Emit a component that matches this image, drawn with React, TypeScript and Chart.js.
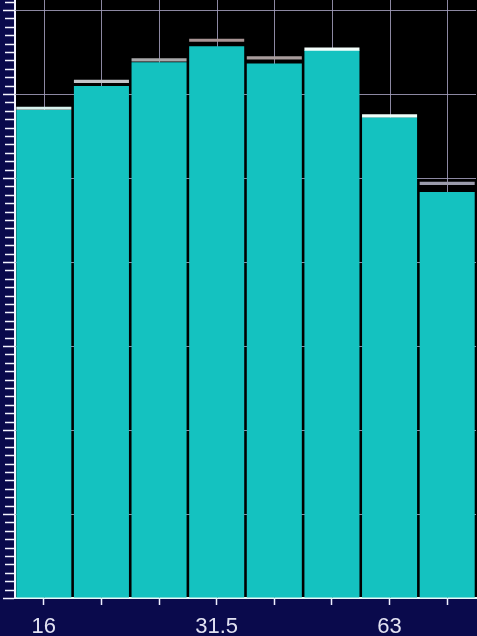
import React, { useEffect, useRef } from 'react';
import { Chart, registerables } from 'chart.js';

Chart.register(...registerables);

// 1/3-octave bands (Hz)
const bands = ['16', '20', '25', '31.5', '40', '50', '63', '80'];
const shownLabels = ['16', '31.5', '63'];
// current level per band
const levels = [58.1, 60.95, 63.8, 65.7, 63.65, 65.25, 57.25, 48.35];
// peak-hold level per band
const peaks = [58.5, 61.7, 64.25, 66.6, 64.5, 65.55, 57.6, 49.55];
const peakColors = ['#d6f2ee', '#c4c4c8', '#a8a8aa', '#a89494', '#a89c9c', '#f4fffc', '#f0fffa', '#9c9cac'];
const yMin = 0;
const yMax = 71.2;
const majorStep = 10;
const minorStep = 1;

const NAVY = '#0a0a4c';
const GRID = 'rgba(165,160,190,0.85)';
const BAR = '#14c2c0';

const framePlugin = {
  id: 'frame',
  beforeDraw(chart: any) {
    const { ctx, chartArea, width, height } = chart;
    ctx.save();
    ctx.fillStyle = '#000000';
    ctx.fillRect(0, 0, width, height);
    ctx.fillStyle = NAVY;
    ctx.fillRect(0, 0, chartArea.left, height);
    ctx.fillRect(0, chartArea.bottom, width, height - chartArea.bottom);
    ctx.restore();
  },
  beforeDatasetsDraw(chart: any) {
    const { ctx, chartArea } = chart;
    const x = chart.scales.x;
    const y = chart.scales.y;
    ctx.save();
    ctx.strokeStyle = GRID;
    ctx.lineWidth = 1;
    for (let v = yMin; v <= yMax; v += majorStep) {
      if (v === yMin) continue;
      const py = Math.round(y.getPixelForValue(v)) + 0.5;
      ctx.beginPath();
      ctx.moveTo(chartArea.left, py);
      ctx.lineTo(chartArea.right, py);
      ctx.stroke();
    }
    for (let i = 0; i < bands.length; i++) {
      const px = Math.round(x.getPixelForTick(i)) + 0.5;
      ctx.beginPath();
      ctx.moveTo(px, chartArea.top);
      ctx.lineTo(px, chartArea.bottom);
      ctx.stroke();
    }
    ctx.restore();
  },
  afterDraw(chart: any) {
    const { ctx, chartArea } = chart;
    const y = chart.scales.y;
    ctx.save();
    ctx.strokeStyle = '#f4f4ff';
    ctx.lineWidth = 1.5;
    for (let v = yMin; v <= yMax; v += minorStep) {
      const py = Math.round(y.getPixelForValue(v)) + 0.5;
      const major = Math.round(v) % majorStep === 0;
      ctx.beginPath();
      ctx.moveTo(chartArea.left - (major ? 12 : 10), py);
      ctx.lineTo(chartArea.left - 1, py);
      ctx.stroke();
    }
    ctx.restore();
  },
};

export default function App() {
  const ref = useRef<HTMLCanvasElement | null>(null);
  useEffect(() => {
    document.body.style.margin = '0';
    document.body.style.background = '#000';
    const canvas = ref.current;
    if (!canvas) return;
    const chart = new Chart(canvas, {
      type: 'bar',
      data: {
        labels: bands,
        datasets: [
          {
            data: peaks.map((p) => [p - 0.38, p]),
            backgroundColor: peakColors,
            barPercentage: 0.955,
            categoryPercentage: 1,
            grouped: false,
            order: 1,
          } as any,
          {
            data: levels,
            backgroundColor: BAR,
            barPercentage: 0.955,
            categoryPercentage: 1,
            grouped: false,
            order: 2,
          } as any,
        ],
      },
      options: {
        responsive: false,
        animation: false,
        devicePixelRatio: 1,
        layout: { padding: { left: 15, right: 1, top: 0, bottom: 0 } },
        plugins: { legend: { display: false }, tooltip: { enabled: false } },
        scales: {
          x: {
            offset: true,
            grid: {
              offset: false,
              drawOnChartArea: false,
              color: GRID,
              tickColor: '#f0f0ff',
              tickLength: 7,
              tickWidth: 1.5,
            },
            border: { color: '#e6fbf8', width: 2 },
            ticks: {
              autoSkip: false,
              maxRotation: 0,
              padding: 9,
              color: '#e2e2f2',
              font: { family: "'Liberation Sans Narrow', 'Arial Narrow', 'Liberation Sans', sans-serif", size: 22 },
              callback: (_v: any, i: number) => (shownLabels.includes(bands[i]) ? bands[i] : ''),
            },
            afterFit: (scale: any) => {
              scale.height = 38;
            },
          },
          y: {
            min: yMin,
            max: yMax,
            grid: { drawOnChartArea: false, drawTicks: false },
            border: { color: '#f4f4ff', width: 2 },
            ticks: { display: false, stepSize: majorStep },
          },
        },
      },
      plugins: [framePlugin],
    });
    return () => chart.destroy();
  }, []);
  return (
    <div style={{ width: 477, height: 636 }}>
      <canvas ref={ref} width={477} height={636} style={{ display: 'block' }} />
    </div>
  );
}
